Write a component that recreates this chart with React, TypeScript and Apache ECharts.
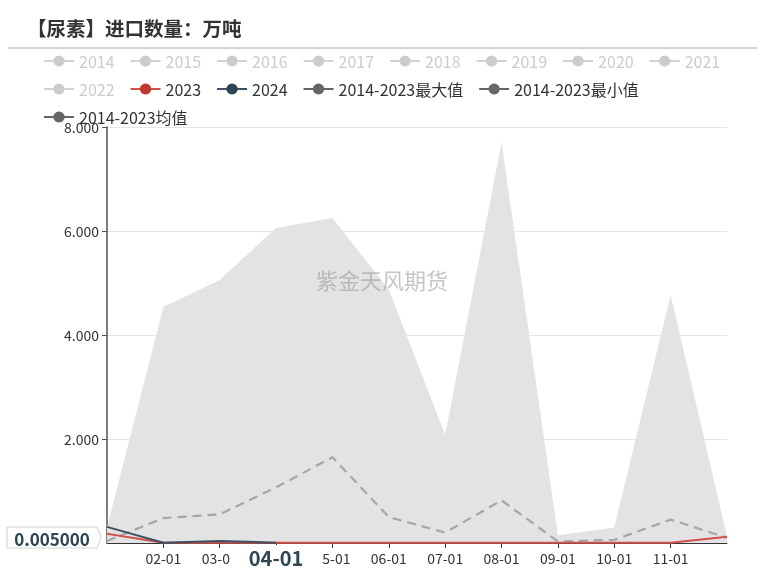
import React, { useEffect, useRef } from "react";
import * as echarts from "echarts";

const categories = ["01-01", "02-01", "03-01", "04-01", "05-01", "06-01", "07-01", "08-01", "09-01", "10-01", "11-01", "12-01"];
const hiddenYears = ["2014", "2015", "2016", "2017", "2018", "2019", "2020", "2021", "2022"];
const values2023 = [0.18, 0.005, 0.005, 0.005, 0.005, 0.005, 0.005, 0.005, 0.005, 0.005, 0.005, 0.12];
const values2024 = [0.31, 0.005, 0.04, 0.005];
const maxValues = [0.3, 4.54, 5.06, 6.06, 6.25, 4.87, 2.08, 7.7, 0.15, 0.3, 4.77, 0.13];
const minValues = [0, 0, 0, 0, 0, 0, 0, 0, 0, 0, 0, 0];
const meanValues = [0.04, 0.48, 0.55, 1.07, 1.65, 0.5, 0.2, 0.82, 0.03, 0.06, 0.45, 0.1];
const yTicks = { min: 0, max: 8, interval: 2 };
const pointerCategory = "04-01";
const pointerValueText = "0.005000";

const FONT = "'Noto Sans CJK SC', 'Noto Sans', sans-serif";

export default function App() {
  const ref = useRef<HTMLDivElement>(null);
  useEffect(() => {
    if (!ref.current) return;
    const chart = echarts.init(ref.current, undefined, { renderer: "svg" });
    const maxName = "2014-2023最大值";
    const minName = "2014-2023最小值";
    const meanName = "2014-2023均值";
    const selected: Record<string, boolean> = {};
    hiddenYears.forEach((y) => (selected[y] = false));
    const band = maxValues.map((v, i) => +(v - minValues[i]).toFixed(4));
    const yearSeries = hiddenYears.map((y) => ({
      name: y,
      type: "line",
      data: [] as number[],
      symbol: "circle",
      showSymbol: false,
    }));
    const grayLegend = { itemStyle: { color: "#666" }, lineStyle: { color: "#666", type: "solid", opacity: 1 } };
    const legendData: any[] = [
      ...hiddenYears.map((y) => ({ name: y })),
      { name: "2023" },
      { name: "2024" },
      { name: maxName, ...grayLegend },
      { name: minName, ...grayLegend },
      { name: meanName, ...grayLegend },
    ];
    chart.setOption({
      animation: false,
      textStyle: { fontFamily: FONT },
      title: {
        text: "【尿素】进口数量：万吨",
        left: 22,
        top: 13,
        textStyle: { fontSize: 19.5, fontWeight: "bold", color: "#333", fontFamily: FONT },
      },
      graphic: [
        { type: "line", shape: { x1: 8, y1: 48, x2: 757, y2: 48 }, style: { stroke: "#a8a8a8", lineWidth: 1 }, silent: true },
        {
          type: "text",
          left: 316,
          top: 268,
          z: 100,
          style: { text: "紫金天风期货", font: "22px 'Noto Sans CJK SC'", fill: "rgba(150,150,150,0.55)" },
          silent: true,
        },
        {
          type: "polygon",
          z: 200,
          shape: { points: [[7, 527], [97, 527], [101, 537.5], [97, 548], [7, 548]] },
          style: { fill: "#fff", stroke: "#d0d0d0", lineWidth: 1 },
          silent: true,
        },
        {
          type: "text",
          z: 201,
          x: 52,
          y: 538,
          style: {
            text: pointerValueText,
            font: "bold 17px 'Noto Sans CJK SC'",
            fill: "#2f4554",
            align: "center",
            verticalAlign: "middle",
          },
          silent: true,
        },
      ],
      color: ["#c23531", "#2f4554", "#666", "#666", "#666"],
      legend: {
        left: 38,
        right: 20,
        top: 48,
        itemWidth: 30,
        itemHeight: 14,
        itemGap: 12,
        inactiveColor: "#ccc",
        textStyle: { fontSize: 16, height: 14, lineHeight: 14, padding: [0, 3, 0, 0], color: "#333", fontFamily: FONT },
        selected,
        data: legendData,
      },
      grid: { left: 107, right: 43, top: 127, bottom: 32 },
      xAxis: {
        type: "category",
        data: categories,
        boundaryGap: false,
        axisLine: { lineStyle: { color: "#333", width: 1 } },
        axisTick: { show: true, alignWithLabel: true, lineStyle: { color: "#333" } },
        axisLabel: {
          color: "#333",
          fontSize: 14,
          fontFamily: FONT,
          interval: (index: number) => index > 0 && index < categories.length - 1,
        },
        splitLine: { show: false },
        axisPointer: {
          show: true,
          type: "line",
          value: pointerCategory,
          status: "show",
          triggerTooltip: false,
          lineStyle: { opacity: 0, width: 0 },
          label: {
            show: true,
            backgroundColor: "#fff",
            color: "#2f4554",
            fontSize: 20,
            fontWeight: "bold",
            fontFamily: FONT,
            padding: [2, 19, 2, 19],
            margin: 2,
          },
        },
      },
      yAxis: {
        type: "value",
        min: yTicks.min,
        max: yTicks.max,
        interval: yTicks.interval,
        axisLine: { show: true, lineStyle: { color: "#555", width: 1.5 } },
        axisTick: { show: true, lineStyle: { color: "#555" } },
        axisLabel: {
          color: "#333",
          fontSize: 14,
          fontFamily: FONT,
          showMinLabel: false,
          formatter: (v: number) => v.toFixed(3),
        },
        splitLine: { show: true, lineStyle: { color: "#e6e6e6" } },
      },
      series: [
        ...yearSeries,
        {
          name: "2023",
          type: "line",
          data: values2023,
          symbol: "circle",
          symbolSize: 8,
          showSymbol: false,
          z: 5,
          itemStyle: { color: "#c23531" },
          lineStyle: { width: 2, color: "#d0504b" },
        },
        {
          name: "2024",
          type: "line",
          data: values2024,
          symbol: "circle",
          symbolSize: 8,
          showSymbol: false,
          z: 6,
          itemStyle: { color: "#2f4554" },
          lineStyle: { width: 2, color: "#3e5163" },
        },
        {
          name: minName,
          type: "line",
          stack: "band",
          data: minValues,
          symbol: "circle",
          showSymbol: false,
          itemStyle: { color: "#666" },
          lineStyle: { opacity: 0 },
          z: 1,
        },
        {
          name: maxName,
          type: "line",
          stack: "band",
          data: band,
          symbol: "circle",
          showSymbol: false,
          itemStyle: { color: "#666" },
          lineStyle: { opacity: 0 },
          areaStyle: { color: "#e3e3e3", opacity: 1 },
          z: 1,
        },
        {
          name: meanName,
          type: "line",
          data: meanValues,
          symbol: "circle",
          showSymbol: false,
          itemStyle: { color: "#666" },
          lineStyle: { color: "#a6a6a6", width: 2.2, type: [9, 6] },
          z: 3,
        },
      ],
    });
    return () => chart.dispose();
  }, []);
  return <div ref={ref} style={{ position: "fixed", left: 0, top: 0, width: 770, height: 575 }} />;
}
